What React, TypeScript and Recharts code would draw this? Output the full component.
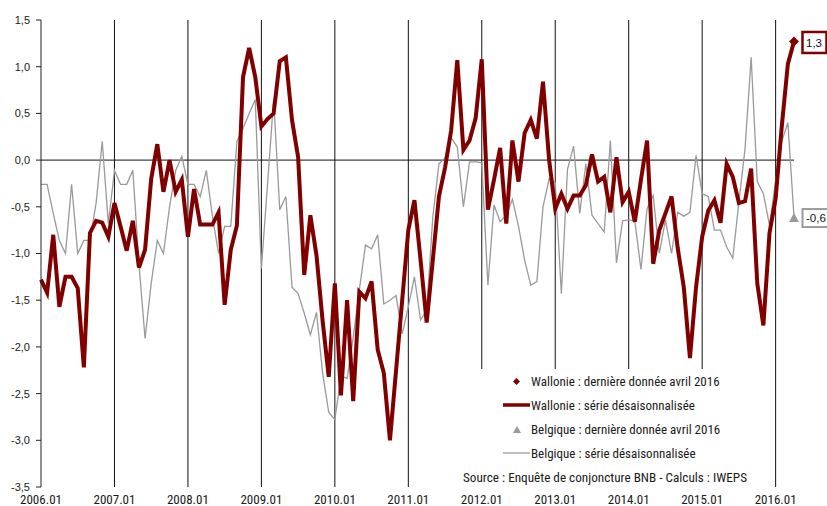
import React from 'react';
import { LineChart, Line, XAxis, YAxis, ReferenceLine } from 'recharts';

const years = ['2006', '2007', '2008', '2009', '2010', '2011', '2012', '2013', '2014', '2015', '2016'];
const monthCodes = ['01', '02', '03', '04', '05', '06', '07', '08', '09', '10', '11', '12'];
const lastMonthIndex = 3; // avril 2016

const months: string[] = [];
years.forEach((y, yi) => {
  monthCodes.forEach((m, mi) => {
    if (yi === years.length - 1 && mi > lastMonthIndex) return;
    months.push(`${y}.${m}`);
  });
});

const wallonie = [
  -1.28, -1.42, -0.8, -1.57, -1.25, -1.25, -1.37, -2.22, -0.78, -0.65, -0.67, -0.82,
  -0.46, -0.71, -0.97, -0.65, -1.15, -0.96, -0.2, 0.17, -0.34, 0.0, -0.34, -0.21,
  -0.82, -0.31, -0.69, -0.69, -0.69, -0.56, -1.55, -0.96, -0.7, 0.89, 1.2, 0.89,
  0.36, 0.44, 0.5, 1.06, 1.1, 0.43, 0.03, -1.23, -0.59, -1.02, -1.72, -2.32,
  -1.32, -2.52, -1.5, -2.58, -1.41, -1.48, -1.3, -2.03, -2.28, -3.0, -2.25, -1.5,
  -0.75, -0.43, -1.07, -1.74, -1.07, -0.39, -0.08, 0.32, 1.07, 0.11, 0.21, 0.45,
  1.08, -0.53, -0.21, 0.13, -0.68, 0.21, -0.23, 0.29, 0.43, 0.23, 0.84, 0.0,
  -0.52, -0.36, -0.52, -0.38, -0.38, -0.27, 0.06, -0.23, -0.18, -0.56, 0.03, -0.45,
  -0.34, -0.66, -0.21, 0.21, -1.11, -0.75, -0.57, -0.39, -0.94, -1.36, -2.12, -1.36,
  -0.82, -0.54, -0.43, -0.67, -0.04, -0.18, -0.46, -0.44, -0.09, -1.32, -1.77, -0.78,
  -0.41, 0.36, 1.03, 1.27,
];

const belgique = [
  -0.26, -0.26, -0.57, -0.86, -1.0, -0.26, -1.0, -0.86, -0.86, -0.46, 0.2, -0.68,
  -0.11, -0.26, -0.26, -0.11, -1.11, -1.91, -1.32, -0.86, -1.0, -0.5, -0.11, 0.04,
  -0.26, -0.26, -0.39, -0.11, -0.6, -1.0, -0.71, -0.71, 0.2, 0.34, 0.5, 0.65,
  -1.16, -0.26, 0.65, -0.53, -0.39, -1.36, -1.43, -1.64, -1.87, -1.63, -2.28, -2.7,
  -2.78, -2.31, -2.34, -1.9, -1.39, -0.91, -0.95, -0.8, -1.54, -1.5, -1.45, -1.86,
  -1.57, -1.25, -1.71, -1.61, -0.61, -0.04, 0.02, 0.24, 0.14, -0.5, -0.02, -0.02,
  -0.03, -1.34, -0.48, -0.66, -0.59, -0.42, -0.71, -1.07, -1.34, -1.3, -0.5, -0.2,
  -0.24, -1.43, -0.1, 0.15, -0.57, -0.04, -0.59, -0.68, -0.77, 0.21, -1.1, -0.65,
  -0.64, -0.65, -1.17, -0.52, -0.38, -1.0, -0.64, -1.0, -0.56, -0.6, -0.56, 0.05,
  -0.36, -0.39, -0.75, -0.75, -0.93, -1.05, -0.45, 0.12, 1.1, -0.23, -0.36, -0.7,
  -0.22, 0.2, 0.4, -0.61,
];

const yTicks = [-3.5, -3.0, -2.5, -2.0, -1.5, -1.0, -0.5, 0.0, 0.5, 1.0, 1.5];
const yearLines = ['2007.01', '2008.01', '2009.01', '2010.01', '2011.01', '2012.01', '2013.01', '2014.01', '2015.01', '2016.01'];

const legendItems = [
  'Wallonie : dernière donnée avril 2016',
  'Wallonie : série désaisonnalisée',
  'Belgique : dernière donnée avril 2016',
  'Belgique : série désaisonnalisée',
];
const sourceText = 'Source : Enquête de conjoncture BNB - Calculs : IWEPS';

const data = months.map((m, i) => ({ month: m, wallonie: wallonie[i], belgique: belgique[i] }));

const RED = '#800000';
const GREY = '#9a9a9a';
const NARROW = '"Liberation Sans Narrow", "Arial Narrow", "Roboto Condensed", "Liberation Sans", Arial, sans-serif';
const REGULAR = '"Liberation Sans", Arial, sans-serif';

const fmt = (v: number) => v.toFixed(1).replace('.', ',');
const lastIdx = data.length - 1;

const WalDot = (props: any) => {
  const { cx, cy, index } = props;
  if (index !== lastIdx) return <g key={`wd${index}`} />;
  return (
    <g key="wlast">
      <polygon points={`${cx},${cy - 5} ${cx + 5},${cy} ${cx},${cy + 5} ${cx - 5},${cy}`} fill={RED} />
      <rect x={cx + 8.5} y={cy - 9.5} width={24} height={21} fill="#fff" stroke={RED} strokeWidth={2.5} />
      <text x={cx + 12} y={cy + 1.5} dominantBaseline="central" fontFamily={REGULAR} fontSize={11.5} fill="#111">
        {fmt(wallonie[lastIdx])}
      </text>
    </g>
  );
};

const BelDot = (props: any) => {
  const { cx, cy, index } = props;
  if (index !== lastIdx) return <g key={`bd${index}`} />;
  return (
    <g key="blast">
      <polygon points={`${cx},${cy - 4} ${cx + 5},${cy + 5} ${cx - 5},${cy + 5}`} fill={GREY} />
      <rect x={cx + 8.5} y={cy - 8} width={32} height={18} fill="#fff" stroke={GREY} strokeWidth={2} />
      <text x={cx + 12} y={cy + 1} dominantBaseline="central" fontFamily={REGULAR} fontSize={11.5} fill="#111">
        {fmt(belgique[lastIdx])}
      </text>
    </g>
  );
};

const rowY = [381.5, 405, 429.5, 453];

export default function App() {
  return (
    <div style={{ position: 'absolute', left: 0, top: 0, width: 827, height: 506, background: '#fff' }}>
      <LineChart width={827} height={506} data={data} margin={{ top: 20, right: 33, bottom: 0, left: 0 }}>
        <XAxis
          dataKey="month"
          interval={11}
          axisLine={false}
          tickLine={false}
          tickSize={5}
          tickMargin={3}
          height={19}
          tick={{ fontSize: 13, fontFamily: NARROW, fill: '#1a1a1a' }}
        />
        <YAxis
          domain={[-3.5, 1.5]}
          ticks={yTicks}
          interval={0}
          width={41}
          tickFormatter={fmt}
          axisLine={{ stroke: '#222' }}
          tickLine={{ stroke: '#222' }}
          tickSize={5}
          tickMargin={6}
          tick={{ fontSize: 11, fontFamily: REGULAR, fill: '#1a1a1a' }}
        />
        {yearLines.map((yl) => (
          <ReferenceLine key={yl} x={yl} stroke="#111" strokeWidth={1} />
        ))}
        <ReferenceLine y={0} stroke="#111" strokeWidth={1} />
        <Line
          type="linear"
          dataKey="belgique"
          stroke={GREY}
          strokeWidth={1.3}
          dot={BelDot}
          activeDot={false}
          isAnimationActive={false}
        />
        <Line
          type="linear"
          dataKey="wallonie"
          stroke={RED}
          strokeWidth={4}
          dot={WalDot}
          activeDot={false}
          isAnimationActive={false}
        />
      </LineChart>
      <svg width={827} height={506} style={{ position: 'absolute', left: 0, top: 0, pointerEvents: 'none' }}>
        <rect x={458} y={369} width={292} height={118} fill="#fff" />
        <polygon points="516.5,378 520,381.5 516.5,385 513,381.5" fill={RED} />
        <line x1={503} x2={530} y1={rowY[1]} y2={rowY[1]} stroke={RED} strokeWidth={3.5} />
        <polygon points="517,426 521,433 513,433" fill={GREY} />
        <line x1={503} x2={530} y1={rowY[3]} y2={rowY[3]} stroke={GREY} strokeWidth={1.3} />
        {legendItems.map((t, i) => (
          <text key={t} x={531} y={rowY[i]} dominantBaseline="central" fontFamily={NARROW} fontSize={13} fill="#1a1a1a">
            {t}
          </text>
        ))}
        <text x={463} y={477.5} dominantBaseline="central" fontFamily={NARROW} fontSize={13.2} fill="#1a1a1a">
          {sourceText}
        </text>
      </svg>
    </div>
  );
}
